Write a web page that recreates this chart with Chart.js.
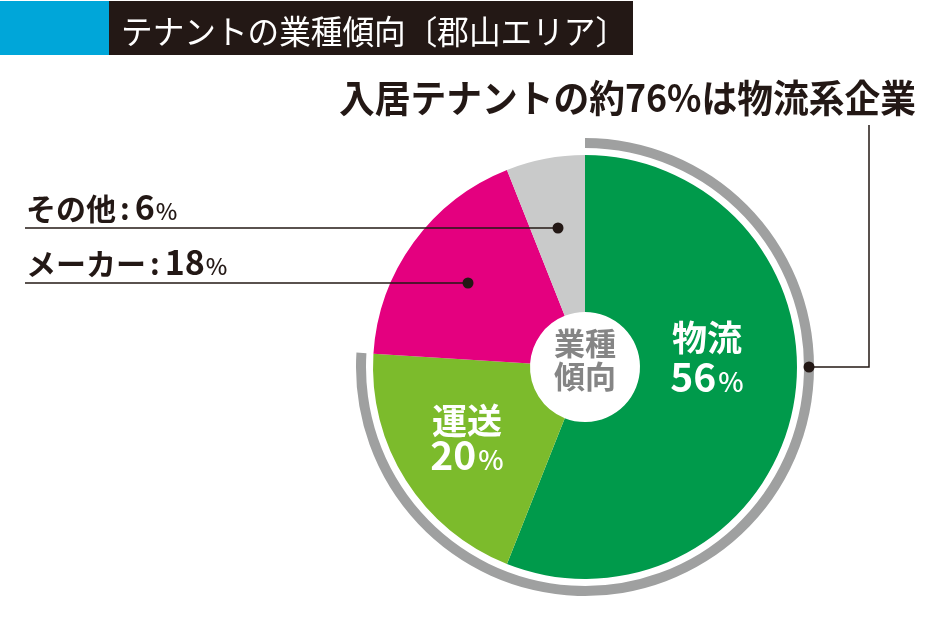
<!DOCTYPE html>
<html lang="ja">
<head>
<meta charset="utf-8">
<title>テナントの業種傾向〔郡山エリア〕</title>
<script src="https://cdn.jsdelivr.net/npm/chart.js@4.4.1/dist/chart.umd.min.js"></script>
<style>
  html, body { margin: 0; padding: 0; background: #fff; }
  canvas { display: block; }
</style>
</head>
<body>
<canvas id="tenantChart" width="942" height="619"></canvas>
<script>
// data
var categories = ['物流', '運送', 'メーカー', 'その他'];
var shares = [56, 20, 18, 6];
var logisticsGroup = [true, true, false, false];
var sliceColors = ['#009a4b', '#7cbb2c', '#e4007f', '#c9caca'];
var chartTitle = 'テナントの業種傾向〔郡山エリア〕';
var centerLabel = ['業種', '傾向'];

var logisticsTotal = 0;
for (var i = 0; i < shares.length; i++) {
    if (logisticsGroup[i]) logisticsTotal += shares[i];
}
var headline = '入居テナントの約' + logisticsTotal + '%は物流系企業';

var FONT = '"Noto Sans CJK JP", "Noto Sans", sans-serif';
var INK = '#231815';

// draw a row of text pieces with different sizes on one baseline
function drawParts(ctx, parts, x, y, align) {
    var total = 0;
    parts.forEach(function(p) {
        ctx.font = p.weight + ' ' + p.size + 'px ' + FONT;
        p.w = ctx.measureText(p.t).width + (p.gap || 0);
        total += p.w;
    });
    var cx = align === 'center' ? x - total / 2 : x;
    ctx.textAlign = 'left';
    ctx.textBaseline = 'alphabetic';
    parts.forEach(function(p) {
        ctx.font = p.weight + ' ' + p.size + 'px ' + FONT;
        ctx.fillText(p.t, cx + (p.pre || 0), y);
        cx += p.w;
    });
}

function dot(ctx, x, y) {
    ctx.beginPath();
    ctx.arc(x, y, 5.5, 0, Math.PI * 2);
    ctx.fillStyle = INK;
    ctx.fill();
}

var annotations = {
    id: 'annotations',
    afterDraw: function(chart) {
        var ctx = chart.ctx;
        ctx.save();

        // title bar
        ctx.fillStyle = '#00a6d9';
        ctx.fillRect(0, 1, 109, 54);
        ctx.fillStyle = INK;
        ctx.fillRect(109, 1, 524, 54);
        ctx.fillStyle = '#fff';
        ctx.font = '400 33px ' + FONT;
        ctx.textBaseline = 'alphabetic';
        ctx.fillText(chartTitle, 121, 44, 506);

        // headline
        ctx.fillStyle = INK;
        ctx.font = '700 38px ' + FONT;
        ctx.textAlign = 'right';
        ctx.fillText(headline, 916, 112, 577);

        // leader from the logistics ring to the headline
        var ring = chart.getDatasetMeta(0).data[0];
        var rMid = (ring.innerRadius + ring.outerRadius) / 2;
        var lx = ring.x + rMid, ly = ring.y;
        ctx.strokeStyle = INK;
        ctx.lineWidth = 1.5;
        ctx.beginPath();
        ctx.moveTo(lx, ly);
        ctx.lineTo(869, ly);
        ctx.lineTo(869, 125);
        ctx.stroke();
        dot(ctx, lx, ly);

        // outside labels for the small slices
        var outside = [
            { idx: 3, base: 220, lineY: 228, dotX: 558 },
            { idx: 2, base: 275, lineY: 283, dotX: 468 }
        ];
        outside.forEach(function(o) {
            ctx.fillStyle = INK;
            drawParts(ctx, [
                { t: categories[o.idx], size: 30, weight: 700, gap: 2 },
                { t: ':', size: 30, weight: 700, gap: 7, pre: 2 },
                { t: String(shares[o.idx]), size: 34, weight: 700, gap: 1 },
                { t: '%', size: 23, weight: 500 }
            ], 26, o.base, 'left');
            ctx.strokeStyle = INK;
            ctx.lineWidth = 1.5;
            ctx.beginPath();
            ctx.moveTo(25, o.lineY);
            ctx.lineTo(o.dotX, o.lineY);
            ctx.stroke();
            dot(ctx, o.dotX, o.lineY);
        });

        // inside labels
        var inside = [
            { idx: 0, x: 707, y1: 351, y2: 392 },
            { idx: 1, x: 467, y1: 434, y2: 470 }
        ];
        ctx.fillStyle = '#fff';
        inside.forEach(function(o) {
            drawParts(ctx, [{ t: categories[o.idx], size: 35, weight: 700 }], o.x, o.y1, 'center');
            drawParts(ctx, [
                { t: String(shares[o.idx]), size: 39, weight: 700, gap: 2 },
                { t: '%', size: 27, weight: 500 }
            ], o.x, o.y2, 'center');
        });

        // hole label
        var pie = chart.getDatasetMeta(2).data[0];
        ctx.fillStyle = '#858585';
        drawParts(ctx, [{ t: centerLabel[0], size: 31, weight: 700 }], pie.x, pie.y - 12, 'center');
        drawParts(ctx, [{ t: centerLabel[1], size: 31, weight: 700 }], pie.x, pie.y + 21, 'center');

        ctx.restore();
    }
};

var ctx1 = document.getElementById('tenantChart').getContext('2d');
new Chart(ctx1, {
    type: 'doughnut',
    data: {
        labels: categories,
        datasets: [{
            // outer grey arc marking the logistics group
            data: [logisticsTotal, 100 - logisticsTotal],
            backgroundColor: ['#9fa0a0', 'rgba(0,0,0,0)'],
            borderWidth: 0,
            hoverOffset: 0,
            weight: 10
        }, {
            // white gap between arc and pie
            data: [1],
            backgroundColor: ['rgba(0,0,0,0)'],
            borderWidth: 0,
            hoverOffset: 0,
            weight: 7
        }, {
            data: shares,
            backgroundColor: sliceColors,
            borderWidth: 0,
            hoverOffset: 0,
            weight: 157
        }]
    },
    options: {
        responsive: false,
        animation: false,
        events: [],
        cutout: 55,
        layout: {
            padding: { left: 356, top: 138, right: 128, bottom: 23 }
        },
        plugins: {
            legend: { display: false },
            tooltip: { enabled: false }
        }
    },
    plugins: [annotations]
});
</script>
</body>
</html>
